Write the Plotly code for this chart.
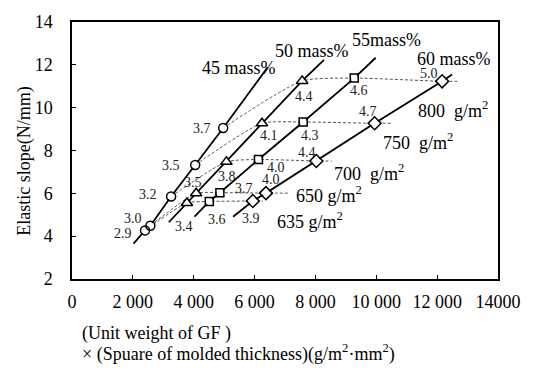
import plotly.graph_objects as go

# ---------------- data ----------------
# points on each GF-content line (x: unit weight x thickness^2, y: elastic slope)
x_45 = [2400, 2575, 3257, 4048, 4968]
y_45 = [4.27, 4.49, 5.85, 7.32, 9.05]
t_45 = ["2.9", "3.0", "3.2", "3.5", "3.7"]

x_50 = [3776, 4081, 5075, 6244, 7565]
y_50 = [5.55, 6.00, 7.47, 9.27, 11.25]
t_50 = ["3.4", "3.5", "3.8", "4.1", "4.4"]

x_55 = [4513, 4860, 6127, 7597, 9276]
y_55 = [5.62, 6.03, 7.58, 9.33, 11.38]
t_55 = ["3.6", "3.7", "4.0", "4.3", "4.6"]

x_60 = [5942, 6374, 8030, 9945, 12164]
y_60 = [5.64, 6.01, 7.51, 9.27, 11.23]
t_60 = ["3.9", "4.0", "4.4", "4.7", "5.0"]

# extents of the solid fitted lines
line_start_x = [2023, 3182, 4026, 5292]
line_start_y = [3.65, 4.65, 4.91, 4.91]
line_end_x = [6429, 8282, 9980, 12490]
line_end_y = [11.88, 12.23, 12.33, 11.55]

# iso-unit-weight dashed curves: end of their extension to the right
weights = ["635", "650", "700", "750", "800"]
iso_end_x = [6266, 7143, 8539, 10487, 12662]

mass_labels = ["45 mass%", "50 mass%", "55mass%", "60 mass%"]
mass_label_x = [4222, 6593, 9126, 11270]
mass_label_y = [11.86, 12.64, 13.18, 12.27]

weight_label_text = ["635 g/m<sup>2</sup>", "650 g/m<sup>2</sup>", "700  g/m<sup>2</sup>",
                     "750  g/m<sup>2</sup>", "800  g/m<sup>2</sup>"]
weight_label_x = [6658, 7308, 8542, 10166, 11302]
weight_label_y = [4.73, 5.95, 6.95, 8.41, 9.91]

x_tickvals = [0, 2000, 4000, 6000, 8000, 10000, 12000, 14000]
x_ticktext = ["0", "2 000", "4 000", "6 000", "8 000", "10 000", "12 000", "14000"]
y_tickvals = [2, 4, 6, 8, 10, 12, 14]

# ---------------- styling ----------------
FONT = "Liberation Serif, Times New Roman, serif"
series = [
    (x_45, y_45, t_45, "circle-open"),
    (x_50, y_50, t_50, "triangle-up-open"),
    (x_55, y_55, t_55, "square-open"),
    (x_60, y_60, t_60, "diamond-open"),
]
# label offsets in pixels (dx right, dy up) for each point label
label_offsets = [
    [(-22, -3), (-17, 7), (-23, 2), (-24, 0), (-21, 0)],
    [(-3, -24), (-3, 11), (1, -15), (7, -12), (2, -16)],
    [(8, -18), (24, 4), (18, -8), (7, -13), (5, -12)],
    [(-2, -17), (5, 14), (-9, 8), (-7, 12), (-13, 8)],
]
marker_sizes = [9, 10, 8, 10]

fig = go.Figure()

# dashed iso-weight curves (through k-th point of each series)
for k in range(5):
    xs = [s[0][k] for s in series] + [iso_end_x[k]]
    ys = [s[1][k] for s in series] + [series[-1][1][k]]
    fig.add_trace(go.Scatter(
        x=xs, y=ys, mode="lines",
        line=dict(color="#555555", width=1, dash="3px,2px", shape="spline", smoothing=0.6),
        hoverinfo="skip", showlegend=False))

# solid lines
for i, (xs, ys, ts, sym) in enumerate(series):
    fig.add_trace(go.Scatter(
        x=[line_start_x[i]] + xs + [line_end_x[i]],
        y=[line_start_y[i]] + ys + [line_end_y[i]],
        mode="lines", line=dict(color="black", width=1.8),
        hoverinfo="skip", showlegend=False))

# markers (white fill + open outline)
for i, (xs, ys, ts, sym) in enumerate(series):
    fig.add_trace(go.Scatter(
        x=xs, y=ys, mode="markers",
        marker=dict(symbol=sym.replace("-open", ""), size=marker_sizes[i] - 2, color="white",
                    line=dict(width=0)),
        showlegend=False, hoverinfo="skip"))
    fig.add_trace(go.Scatter(
        x=xs, y=ys, mode="markers",
        marker=dict(symbol=sym, size=marker_sizes[i], color="black",
                    line=dict(color="black", width=1.5)),
        showlegend=False))

annotations = []
for i, (xs, ys, ts, sym) in enumerate(series):
    for j in range(len(xs)):
        dx, dy = label_offsets[i][j]
        annotations.append(dict(
            x=xs[j], y=ys[j], text=ts[j], showarrow=False,
            xshift=dx, yshift=dy, font=dict(family=FONT, size=14, color="#222222")))

for txt, x, y in zip(mass_labels, mass_label_x, mass_label_y):
    annotations.append(dict(x=x, y=y, text=txt, showarrow=False, xanchor="left",
                            font=dict(family=FONT, size=18, color="black")))
for txt, x, y in zip(weight_label_text, weight_label_x, weight_label_y):
    annotations.append(dict(x=x, y=y, text=txt, showarrow=False, xanchor="left",
                            font=dict(family=FONT, size=18, color="black")))

# axis titles
annotations.append(dict(xref="paper", yref="paper", x=0, y=0.456, xshift=-47,
                        text="Elastic slope(N/mm)", textangle=-90, showarrow=False,
                        xanchor="center", yanchor="middle",
                        font=dict(family=FONT, size=18, color="black")))
annotations.append(dict(xref="paper", yref="paper", x=0.0186, y=-0.212,
                        text="(Unit weight of GF )", showarrow=False,
                        xanchor="left", yanchor="middle",
                        font=dict(family=FONT, size=18, color="black")))
annotations.append(dict(xref="paper", yref="paper", x=0.0186, y=-0.288,
                        text="× (Spuare of molded thickness)(g/m<sup>2</sup>·mm<sup>2</sup>)",
                        showarrow=False, xanchor="left", yanchor="middle",
                        font=dict(family=FONT, size=18, color="black")))

fig.update_layout(
    width=533, height=369,
    margin=dict(l=72, r=30, t=15, b=90),
    paper_bgcolor="white", plot_bgcolor="white",
    font=dict(family=FONT, size=18, color="black"),
    annotations=annotations,
    xaxis=dict(range=[0, 14000], tickvals=x_tickvals, ticktext=x_ticktext,
               showgrid=False, zeroline=False, showline=True, linecolor="black",
               linewidth=1.5, mirror=True, ticks="inside", ticklen=4,
               tickcolor="black", ticklabelstandoff=6,
               tickfont=dict(family=FONT, size=18, color="black")),
    yaxis=dict(range=[2, 14], tickvals=y_tickvals,
               showgrid=False, zeroline=False, showline=True, linecolor="black",
               linewidth=1.5, mirror=True, ticks="inside", ticklen=4,
               tickcolor="black", ticklabelstandoff=14,
               tickfont=dict(family=FONT, size=18, color="black")),
)

fig.write_html("out.html")
